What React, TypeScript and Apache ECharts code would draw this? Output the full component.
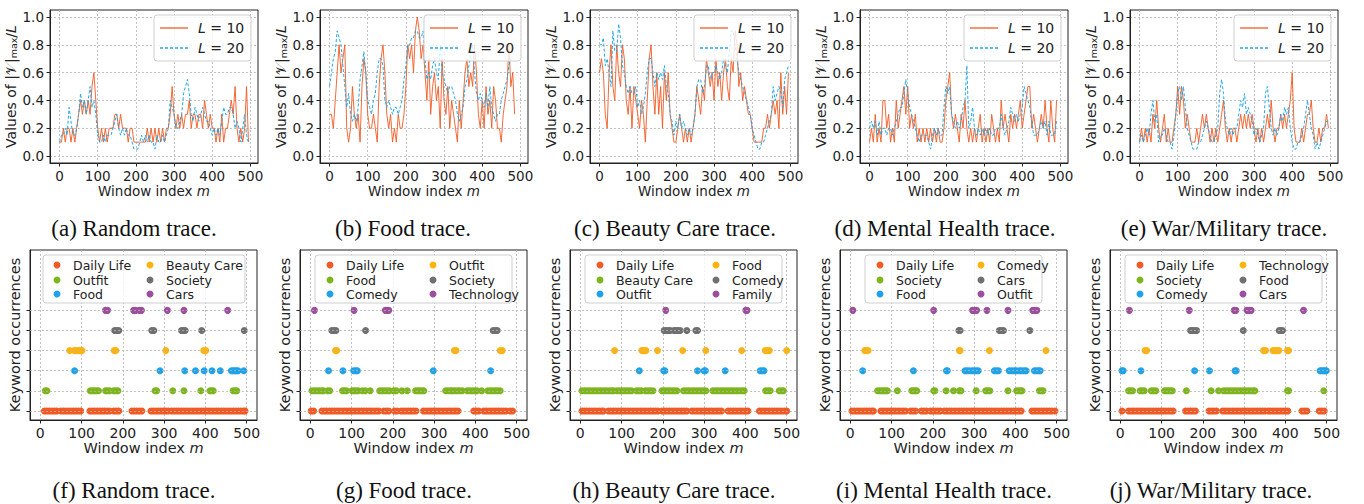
import React, { useEffect, useRef } from 'react';
import * as echarts from 'echarts';

// ---------- data (window index = position * STEP) ----------
const STEP = 5;
const X_TICKS = [0, 100, 200, 300, 400, 500];
const Y_TICKS_TOP = [0, 0.2, 0.4, 0.6, 0.8, 1.0];
const KW_LEVELS = [0, 1, 2, 3, 4, 5];

const topCaptions = ['(a) Random trace.', '(b) Food trace.', '(c) Beauty Care trace.', '(d) Mental Health trace.', '(e) War/Military trace.'];
const bottomCaptions = ['(f) Random trace.', '(g) Food trace.', '(h) Beauty Care trace.', '(i) Mental Health trace.', '(j) War/Military trace.'];
const legendL = ['10', '20'];

const randomL10 = [0.1,0.1,0.2,0.1,0.2,0.2,0.1,0.2,0.1,0.2, 0.3,0.4,0.3,0.4,0.3,0.4,0.3,0.5,0.6,0.4, 0.2,0.1,0.2,0.1,0.2,0.1,0.2,0.2,0.2,0.3, 0.3,0.2,0.3,0.2,0.2,0.2,0.1,0.2,0.2,0.1, 0.1,0.1,0.1,0.1,0.1,0.1,0.2,0.1,0.2,0.1, 0.2,0.1,0.2,0.1,0.2,0.1,0.2,0.2,0.3,0.5, 0.3,0.2,0.3,0.2,0.3,0.2,0.3,0.3,0.4,0.2, 0.3,0.3,0.2,0.3,0.3,0.2,0.4,0.3,0.2,0.3, 0.2,0.2,0.1,0.2,0.1,0.3,0.1,0.2,0.2,0.3, 0.4,0.3,0.5,0.2,0.1,0.2,0.1,0.2,0.5,0.1];
const randomL20 = [0.1,0.15,0.15,0.2,0.15,0.35,0.25,0.15,0.15,0.2, 0.3,0.45,0.35,0.4,0.3,0.4,0.5,0.35,0.4,0.3, 0.15,0.1,0.1,0.15,0.1,0.15,0.15,0.15,0.2,0.25, 0.3,0.2,0.15,0.2,0.15,0.2,0.15,0.15,0.1,0.05, 0.05,0.05,0.1,0.15,0.1,0.15,0.1,0.15,0.1,0.1, 0.05,0.15,0.1,0.1,0.15,0.1,0.15,0.2,0.4,0.35, 0.3,0.2,0.2,0.25,0.3,0.45,0.5,0.55,0.45,0.3, 0.25,0.35,0.3,0.25,0.3,0.35,0.3,0.25,0.25,0.2, 0.15,0.2,0.15,0.2,0.15,0.25,0.35,0.3,0.3,0.35, 0.35,0.3,0.2,0.25,0.2,0.1,0.2,0.3,0.15,0.1];
const foodL10 = [0.3,0.3,0.2,0.4,0.6,0.8,0.6,0.7,0.8,0.2, 0.1,0.2,0.5,0.3,0.2,0.3,0.1,0.5,0.7,0.6, 0.3,0.2,0.2,0.3,0.2,0.1,0.5,0.7,0.8,0.6, 0.3,0.2,0.3,0.1,0.2,0.1,0.3,0.2,0.2,0.3, 0.5,0.8,0.7,0.8,0.6,0.9,1.0,0.9,0.7,0.8, 0.6,0.4,0.7,0.3,0.5,0.6,0.4,0.5,0.2,0.7, 0.4,0.3,0.5,0.2,0.4,0.3,0.2,0.1,0.4,0.2, 0.4,0.6,0.7,0.5,0.6,0.5,0.8,0.6,0.3,0.2, 0.4,0.2,0.5,0.3,0.4,0.2,0.5,0.4,0.2,0.2, 0.1,0.3,0.4,0.5,0.8,0.5,0.6,0.3];
const foodL20 = [0.5,0.6,0.7,0.75,0.9,0.85,0.8,0.65,0.5,0.35, 0.45,0.3,0.25,0.3,0.25,0.35,0.55,0.65,0.75,0.6, 0.4,0.35,0.3,0.4,0.45,0.6,0.7,0.7,0.65,0.4, 0.35,0.4,0.35,0.3,0.35,0.35,0.3,0.35,0.4,0.55, 0.65,0.8,0.8,0.85,0.85,0.9,0.9,0.85,0.85,0.9, 0.7,0.55,0.6,0.55,0.65,0.7,0.6,0.55,0.8,0.6, 0.55,0.5,0.45,0.5,0.5,0.45,0.4,0.3,0.25,0.3, 0.35,0.5,0.55,0.65,0.75,0.8,0.6,0.45,0.4,0.45, 0.4,0.35,0.45,0.35,0.5,0.35,0.3,0.25,0.3,0.3, 0.4,0.45,0.5,0.55,0.65,0.7];
const beautyL10 = [0.6,0.7,0.6,0.3,0.2,0.6,0.8,0.5,0.4,0.8, 0.6,0.5,0.8,0.7,0.4,0.3,0.5,0.2,0.5,0.4, 0.3,0.2,0.4,0.3,0.1,0.4,0.7,0.8,0.5,0.3, 0.6,0.3,0.5,0.2,0.6,0.4,0.6,0.3,0.2,0.1, 0.1,0.2,0.3,0.2,0.1,0.2,0.1,0.2,0.1,0.2, 0.3,0.5,0.4,0.3,0.5,0.4,0.7,0.6,0.5,0.6, 0.4,0.7,0.5,0.6,0.4,0.6,0.7,0.5,0.4,0.7, 0.6,0.9,0.8,0.5,0.6,0.4,0.5,0.4,0.3,0.3, 0.2,0.1,0.1,0.1,0.1,0.1,0.2,0.2,0.3,0.2, 0.3,0.4,0.3,0.4,0.2,0.6,0.3,0.5,0.3,0.6];
const beautyL20 = [0.8,0.8,0.85,0.65,0.7,0.6,0.5,0.9,0.75,0.75, 0.95,0.85,0.65,0.6,0.5,0.45,0.5,0.45,0.45,0.5, 0.35,0.4,0.3,0.35,0.45,0.6,0.7,0.7,0.6,0.5, 0.6,0.55,0.6,0.55,0.65,0.5,0.45,0.3,0.25,0.15, 0.25,0.2,0.3,0.2,0.25,0.2,0.15,0.2,0.15,0.2, 0.3,0.5,0.55,0.55,0.45,0.5,0.65,0.65,0.55,0.6, 0.6,0.65,0.6,0.55,0.6,0.7,0.65,0.6,0.75,0.9, 0.9,0.8,0.7,0.6,0.55,0.5,0.45,0.4,0.35,0.3, 0.2,0.15,0.1,0.05,0.05,0.1,0.1,0.15,0.2,0.25, 0.3,0.5,0.4,0.45,0.5,0.45,0.35,0.55,0.6,0.65];
const mentalL10 = [0.1,0.2,0.1,0.3,0.1,0.2,0.1,0.4,0.4,0.2, 0.3,0.1,0.2,0.1,0.4,0.2,0.3,0.4,0.5,0.3, 0.5,0.2,0.3,0.2,0.3,0.1,0.2,0.1,0.2,0.1, 0.2,0.1,0.2,0.1,0.2,0.1,0.2,0.1,0.1,0.2, 0.4,0.5,0.6,0.3,0.2,0.3,0.2,0.1,0.3,0.2, 0.4,0.2,0.1,0.2,0.1,0.2,0.1,0.2,0.3,0.1, 0.2,0.1,0.2,0.1,0.3,0.2,0.1,0.2,0.1,0.4, 0.2,0.3,0.2,0.1,0.3,0.2,0.3,0.2,0.3,0.4, 0.2,0.3,0.4,0.5,0.5,0.2,0.3,0.2,0.1,0.2, 0.3,0.2,0.4,0.2,0.1,0.4,0.2,0.1,0.4];
const mentalL20 = [0.2,0.25,0.2,0.25,0.15,0.25,0.15,0.2,0.2,0.15, 0.2,0.2,0.15,0.2,0.25,0.3,0.35,0.35,0.45,0.55, 0.45,0.35,0.3,0.25,0.2,0.15,0.1,0.15,0.15,0.15, 0.15,0.1,0.05,0.15,0.2,0.15,0.2,0.15,0.15,0.35, 0.5,0.45,0.5,0.3,0.25,0.2,0.25,0.2,0.25,0.35, 0.4,0.65,0.2,0.25,0.35,0.2,0.15,0.2,0.15,0.2, 0.15,0.2,0.15,0.2,0.15,0.15,0.2,0.2,0.2,0.3, 0.2,0.15,0.2,0.25,0.35,0.3,0.25,0.3,0.25,0.3, 0.35,0.5,0.45,0.4,0.35,0.25,0.15,0.15,0.15,0.2, 0.25,0.2,0.25,0.15,0.25,0.15,0.15,0.15,0.25];
const warL10 = [0.1,0.2,0.1,0.2,0.1,0.2,0.1,0.3,0.2,0.4, 0.2,0.1,0.2,0.3,0.1,0.2,0.1,0.1,0.2,0.3, 0.5,0.3,0.5,0.4,0.2,0.3,0.2,0.1,0.1,0.1, 0.2,0.1,0.2,0.3,0.2,0.3,0.2,0.1,0.2,0.1, 0.2,0.1,0.2,0.3,0.4,0.2,0.1,0.2,0.1,0.2, 0.2,0.1,0.2,0.3,0.2,0.3,0.2,0.3,0.2,0.3, 0.2,0.1,0.2,0.1,0.2,0.1,0.2,0.3,0.2,0.4, 0.2,0.1,0.2,0.2,0.3,0.2,0.3,0.2,0.3,0.4, 0.6,0.2,0.1,0.1,0.1,0.2,0.1,0.2,0.3,0.3, 0.4,0.2,0.1,0.1,0.2,0.1,0.2,0.2,0.3,0.2];
const warL20 = [0.1,0.15,0.1,0.15,0.2,0.15,0.3,0.4,0.25,0.3, 0.1,0.15,0.15,0.2,0.15,0.1,0.1,0.05,0.15,0.3, 0.45,0.5,0.4,0.5,0.35,0.2,0.15,0.1,0.05,0.05, 0.05,0.1,0.1,0.15,0.2,0.25,0.2,0.15,0.1,0.1, 0.15,0.2,0.45,0.55,0.45,0.25,0.2,0.15,0.2,0.15, 0.2,0.2,0.3,0.4,0.35,0.45,0.3,0.35,0.3,0.25, 0.15,0.2,0.15,0.1,0.15,0.2,0.45,0.5,0.35,0.2, 0.15,0.2,0.15,0.2,0.3,0.25,0.35,0.3,0.35,0.2, 0.1,0.05,0.05,0.1,0.1,0.15,0.2,0.3,0.4,0.3, 0.2,0.15,0.05,0.1,0.05,0.1,0.15,0.2,0.25,0.25];

const topL10 = [randomL10, foodL10, beautyL10, mentalL10, warL10];
const topL20 = [randomL20, foodL20, beautyL20, mentalL20, warL20];

// keyword occurrences: window indices per keyword (bottom level first)
const randomKeywords = ['Daily Life', 'Outfit', 'Food', 'Beauty Care', 'Society', 'Cars'];
const randomOcc = [
  [10,16,22,28,34,40,50,56,62,68,74,80,86,92,98,120,126,132,138,144,150,156,162,168,178,184,190,222,228,234,240,246,268,274,280,286,292,298,304,310,318,324,330,336,342,348,354,360,366,372,378,384,390,396,402,408,414,420,426,432,438,444,450,456,462,468,474,480,486,492,496],
  [12,16,121,126,131,136,141,158,163,168,178,183,188,278,282,321,348,389,411,415,419,467,472,476],
  [83,290,350,376,397,416,436,463,467,471,475,479,493],
  [71,82,87,92,97,101,179,183,304,396,401],
  [180,185,190,270,275,342,347,351,391,494],
  [158,163,226,231,240,245,308,348,454],
];
const foodKeywords = ['Daily Life', 'Food', 'Comedy', 'Outfit', 'Society', 'Technology'];
const foodOcc = [
  [2,8,28,34,40,46,52,58,64,70,76,82,88,94,100,106,112,118,124,130,136,142,148,154,160,166,178,184,190,204,210,220,226,232,238,244,250,256,274,280,286,292,298,304,310,316,322,328,334,340,346,352,358,396,402,408,420,426,432,438,444,450,456,462,468,474,484,490],
  [4,10,16,22,28,32,42,47,78,83,88,101,106,111,116,126,133,145,168,174,180,186,192,202,208,222,235,255,260,265,270,275,328,334,340,344,350,356,362,368,380,386,392,398,404,415,430,436,442,448,454,460],
  [44,79,105,110,114,298,437],
  [61,64,349,353,460,465],
  [52,57,62,134,443,448,453],
  [10,106,182,186,190],
];
const beautyKeywords = ['Daily Life', 'Beauty Care', 'Outfit', 'Food', 'Comedy', 'Family'];
const beautyOcc = [
  [4,10,16,22,28,34,40,46,52,56,68,74,80,86,92,98,104,110,116,122,128,134,140,146,152,158,164,170,176,182,188,198,204,210,216,222,228,234,240,246,252,258,270,276,282,288,294,300,306,312,318,324,330,336,342,358,364,370,376,382,388,394,400,406,434,440,446,452,458,464,470,476,482,488,494,500],
  [4,10,16,22,28,34,40,46,52,58,64,70,76,80,88,94,100,106,112,118,124,136,142,148,158,164,170,176,198,204,210,216,222,228,234,250,256,262,268,274,280,286,292,298,304,321,327,333,339,345,351,357,363,368,374,380,386,392,397,449,455,460,482,488,492],
  [143,202,205,284,300,303,351,436,441,445],
  [83,149,154,159,187,248,304,391,448,453,458,500],
  [203,208,213,218,227,232,237,242,258,280,284],
  [207,401,404],
];
const mentalKeywords = ['Daily Life', 'Society', 'Food', 'Comedy', 'Cars', 'Outfit'];
const mentalOcc = [
  [4,10,16,22,28,34,40,46,52,56,74,80,86,92,98,104,110,116,122,128,134,146,152,158,172,178,184,194,200,206,212,218,228,234,240,246,252,258,264,270,276,282,288,294,300,306,312,318,324,330,336,342,348,354,360,366,372,378,384,390,396,402,408,414,440,446,452,458,464,470,476,482,488,496],
  [66,71,76,81,86,90,114,149,153,157,161,202,205,232,250,264,268,305,328,333,338,382,403,408,413,416,458,463,467],
  [30,153,233,235,278,283,288,295,300,305,310,349,354,359,385,391,397,403,410,415,421,426,446,451,456,460],
  [35,39,43,264,266,337,474],
  [263,266,361,366,371,435],
  [6,202,296,301,306,331,382,442,447,452],
];
const warKeywords = ['Daily Life', 'Society', 'Comedy', 'Technology', 'Food', 'Cars'];
const warOcc = [
  [4,20,26,32,38,44,50,56,62,68,74,80,86,92,98,104,110,116,122,128,158,164,170,176,182,215,221,227,233,248,254,260,266,272,278,284,290,296,302,308,314,320,326,332,338,344,350,358,364,370,376,382,388,394,400,406,440,446,452,482,488,494],
  [20,25,30,48,53,58,75,80,86,107,112,117,122,126,160,220,238,250,256,262,268,274,280,286,292,298,304,310,316,322,326,405,408,493],
  [4,7,50,180,216,278,281,484,488,492,496,499],
  [60,64,347,352,370,375,380,384,405,408],
  [170,175,180,185,298,385,389,393],
  [22,167,276,280,307,312,317,444],
];

const bottomKeywords = [randomKeywords, foodKeywords, beautyKeywords, mentalKeywords, warKeywords];
const bottomOcc = [randomOcc, foodOcc, beautyOcc, mentalOcc, warOcc];

// ---------- styling ----------
const RED = '#F15A24';
const BLUE = '#22A7E6';
const KW_COLORS = ['#F15A24', '#7DB61C', '#1FA3E8', '#FFB30F', '#707070', '#9B4F9C'];
const FONT = 'DejaVu Sans';
const SERIF = 'Liberation Serif';
const INK = '#222';
const PANEL_DX = 270;

const topLegendLayout = { x: 154, y: 15, w: 97, h: 46, lineX1: 160, lineX2: 188, textX: 198, rows: [28, 48] };
const bottomLegendLayout = [
  { x: 43, w: 202, c1: 57, c2: 150 },
  { x: 45, w: 197, c1: 60, c2: 163 },
  { x: 45, w: 197, c1: 60, c2: 176 },
  { x: 55, w: 177, c1: 70, c2: 171 },
  { x: 45, w: 197, c1: 60, c2: 163 },
];
const topCaptionX = [134, 403, 675, 945, 1224];
const bottomCaptionX = [134, 404, 674, 944, 1211];

function buildOption() {
  const grid: any[] = [];
  const xAxis: any[] = [];
  const yAxis: any[] = [];
  const series: any[] = [];
  const graphic: any[] = [];

  const axisLine = { show: true, onZero: false, lineStyle: { color: INK, width: 1 } };
  const tickStyle = { show: true, inside: false, length: 3.5, lineStyle: { color: INK, width: 1 } };
  const splitStyle = { show: true, lineStyle: { color: '#b3b3b3', type: [2, 2], width: 0.8 } };
  const xName = '{n|Window index }{i|m}';
  const xNameRich = (fs: number) => ({
    n: { fontSize: fs, fontFamily: FONT, color: INK },
    i: { fontSize: fs, fontFamily: FONT, fontStyle: 'italic', color: INK },
  });

  for (let k = 0; k < 5; k++) {
    const ox = PANEL_DX * k;
    // ---- top row ----
    const gi = 2 * k;
    grid.push({ left: 50 + ox, top: 10, width: 208, height: 153, show: true, borderColor: INK, borderWidth: 1, backgroundColor: 'transparent' });
    xAxis.push({
      type: 'value', gridIndex: gi, min: -25, max: 520, splitNumber: 5,
      axisLine,
      axisTick: { ...tickStyle, customValues: X_TICKS },
      axisLabel: { color: INK, fontSize: 13.5, fontFamily: FONT, margin: 6, customValues: X_TICKS },
      splitLine: splitStyle,
      name: xName, nameLocation: 'middle', nameGap: 19,
      nameTextStyle: { rich: xNameRich(13.5) },
    });
    yAxis.push({
      type: 'value', gridIndex: gi, min: -0.05, max: 1.05, splitNumber: 5,
      axisLine,
      axisTick: { ...tickStyle, customValues: Y_TICKS_TOP },
      axisLabel: { color: INK, fontSize: 13.5, fontFamily: FONT, margin: 6, customValues: Y_TICKS_TOP, formatter: (v: number) => v.toFixed(1) },
      splitLine: splitStyle,
      name: '{a|Values of |𝒱|}{s|max}{a|/}{i|L}', nameLocation: 'middle', nameGap: 29,
      nameTextStyle: {
        rich: {
          a: { fontSize: 14, fontFamily: FONT, color: INK },
          s: { fontSize: 9.5, fontFamily: FONT, color: INK, verticalAlign: 'bottom', padding: [6, 0, 0, 0] },
          i: { fontSize: 14, fontFamily: FONT, fontStyle: 'italic', color: INK },
        },
      },
    });
    series.push({
      type: 'line', name: 'L = 10', xAxisIndex: gi, yAxisIndex: gi, symbol: 'none', z: 3,
      data: topL10[k].map((v, i) => [i * STEP, v]),
      lineStyle: { color: RED, width: 1, opacity: 0.9 }, itemStyle: { color: RED },
    });
    series.push({
      type: 'line', name: 'L = 20', xAxisIndex: gi, yAxisIndex: gi, symbol: 'none', z: 4,
      data: topL20[k].map((v, i) => [i * STEP, v]),
      lineStyle: { color: BLUE, width: 1, type: [3, 2] }, itemStyle: { color: BLUE },
    });

    // top legend
    const L = topLegendLayout;
    graphic.push({ type: 'rect', z: 100, shape: { x: ox + L.x, y: L.y, width: L.w, height: L.h, r: 3 }, style: { fill: 'rgba(255,255,255,0.8)', stroke: '#cfcfcf', lineWidth: 1 } });
    legendL.forEach((lv, r) => {
      graphic.push({
        type: 'line', z: 101,
        shape: { x1: ox + L.lineX1, y1: L.rows[r], x2: ox + L.lineX2, y2: L.rows[r] },
        style: r === 0 ? { stroke: RED, lineWidth: 1.3 } : { stroke: BLUE, lineWidth: 1.3, lineDash: [3, 2] },
      });
      graphic.push({
        type: 'text', z: 101, x: ox + L.textX, y: L.rows[r],
        style: {
          text: '{i|L} = ' + lv, fill: INK, font: `14px "${FONT}"`,
          align: 'left', verticalAlign: 'middle', textAlign: 'left', textVerticalAlign: 'middle',
          rich: { i: { fontStyle: 'italic', fontSize: 14, fontFamily: FONT, fill: INK, color: INK } },
        },
      });
    });
    graphic.push({ type: 'text', z: 101, x: topCaptionX[k], y: 228, style: { text: topCaptions[k], fill: '#111', font: `23px "${SERIF}"`, align: 'center', verticalAlign: 'middle', textAlign: 'center', textVerticalAlign: 'middle' } });

    // ---- bottom row ----
    const bi = 2 * k + 1;
    grid.push({ left: 30 + ox, top: 250, width: 227, height: 170, show: true, borderColor: INK, borderWidth: 1, backgroundColor: 'transparent' });
    xAxis.push({
      type: 'value', gridIndex: bi, min: -25, max: 525, splitNumber: 5,
      axisLine,
      axisTick: { ...tickStyle, customValues: X_TICKS },
      axisLabel: { color: INK, fontSize: 14, fontFamily: FONT, margin: 6, customValues: X_TICKS },
      splitLine: splitStyle,
      name: xName, nameLocation: 'middle', nameGap: 20,
      nameTextStyle: { rich: xNameRich(14.5) },
    });
    yAxis.push({
      type: 'value', gridIndex: bi, min: -0.45, max: 8,
      axisLine,
      axisTick: { ...tickStyle, customValues: KW_LEVELS },
      axisLabel: { show: false },
      splitLine: { show: false },
      name: 'Keyword occurrences', nameLocation: 'middle', nameGap: 8,
      nameTextStyle: { fontSize: 14.5, fontFamily: FONT, color: INK },
    });
    series.push({
      type: 'scatter', name: 'grid', xAxisIndex: bi, yAxisIndex: bi, data: [], z: 1, silent: true,
      markLine: {
        silent: true, symbol: ['none', 'none'], label: { show: false },
        lineStyle: { color: '#b3b3b3', type: [2, 2], width: 0.8 },
        data: KW_LEVELS.map((v) => ({ yAxis: v })),
      },
    });
    bottomOcc[k].forEach((xs, lvl) => {
      series.push({
        type: 'scatter', name: bottomKeywords[k][lvl], xAxisIndex: bi, yAxisIndex: bi, z: 3,
        symbol: 'circle', symbolSize: 7,
        data: xs.map((x) => [x, lvl]),
        itemStyle: { color: KW_COLORS[lvl], opacity: 1 },
      });
    });

    // bottom legend
    const B = bottomLegendLayout[k];
    graphic.push({ type: 'rect', z: 100, shape: { x: ox + B.x, y: 255, width: B.w, height: 48, r: 3 }, style: { fill: 'rgba(255,255,255,0.8)', stroke: '#cfcfcf', lineWidth: 1 } });
    const rowsY = [265, 280, 294];
    bottomKeywords[k].forEach((name, idx) => {
      const col = idx < 3 ? B.c1 : B.c2;
      const y = rowsY[idx % 3];
      graphic.push({ type: 'circle', z: 101, shape: { cx: ox + col, cy: y, r: 3.5 }, style: { fill: KW_COLORS[idx] } });
      graphic.push({ type: 'text', z: 101, x: ox + col + 16, y, style: { text: name, fill: INK, font: `12.5px "${FONT}"`, align: 'left', verticalAlign: 'middle', textAlign: 'left', textVerticalAlign: 'middle' } });
    });
    graphic.push({ type: 'text', z: 101, x: bottomCaptionX[k], y: 490, style: { text: bottomCaptions[k], fill: '#111', font: `23px "${SERIF}"`, align: 'center', verticalAlign: 'middle', textAlign: 'center', textVerticalAlign: 'middle' } });
  }

  return {
    animation: false,
    backgroundColor: '#ffffff',
    textStyle: { fontFamily: FONT },
    grid, xAxis, yAxis, series, graphic,
  };
}

export default function App() {
  const ref = useRef<HTMLDivElement>(null);
  useEffect(() => {
    if (!ref.current) return;
    const chart = echarts.init(ref.current, null, { renderer: 'svg' });
    chart.setOption(buildOption() as any);
    return () => chart.dispose();
  }, []);
  return <div ref={ref} style={{ position: 'absolute', left: 0, top: 0, width: 1364, height: 504, background: '#fff' }} />;
}
